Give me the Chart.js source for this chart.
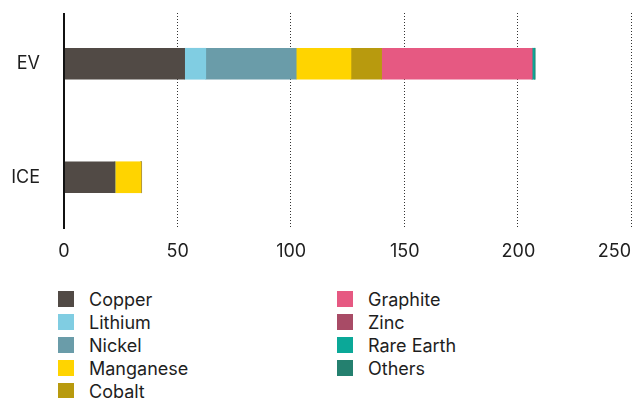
<!DOCTYPE html>
<html>
<head>
<meta charset="utf-8">
<script src="https://cdn.jsdelivr.net/npm/chart.js@4"></script>
<style>
  html, body { margin: 0; padding: 0; background: #fff; }
  body { width: 632px; height: 398px; position: relative; overflow: hidden; font-family: Inter, "Liberation Sans", sans-serif; }
  #wrap { position: absolute; left: 0; top: 0; width: 632px; height: 272px; }
  .item { position: absolute; height: 16px; display: flex; align-items: center; white-space: nowrap; font-size: 18px; color: #1e1e1e; }
  .box { width: 16px; height: 16px; margin-right: 15px; flex: none; }
</style>
</head>
<body>
<div id="wrap"><canvas id="c"></canvas></div>
<div id="legend"></div>
<script>
const categories = ['EV', 'ICE'];
const copper    = [53.1, 22.4];
const lithium   = [9.3, 0];
const nickel    = [39.8, 0];
const manganese = [24.1, 11.5];
const cobalt    = [13.5, 0];
const graphite  = [66.2, 0];
const zinc      = [0, 0];
const rareEarth = [1.0, 0];
const others    = [0.4, 0.3];
const xTicks = [0, 50, 100, 150, 200, 250];

const seriesNames = ['Copper', 'Lithium', 'Nickel', 'Manganese', 'Cobalt', 'Graphite', 'Zinc', 'Rare Earth', 'Others'];
const seriesData = [copper, lithium, nickel, manganese, cobalt, graphite, zinc, rareEarth, others];
const seriesColors = ['#514a45', '#80cde2', '#6a9ca9', '#ffd400', '#b89a0e', '#e65982', '#a84b66', '#0ba898', '#24806f'];

const FONT = 'Inter, "Liberation Sans", sans-serif';

const decor = {
  id: 'decor',
  beforeDatasetsDraw(chart) {
    const { ctx, scales: { x }, chartArea: a } = chart;
    const top = a.top + 6, bottom = a.bottom - 5;
    ctx.save();
    ctx.strokeStyle = '#333';
    ctx.lineWidth = 1;
    ctx.setLineDash([1, 2]);
    xTicks.forEach(v => {
      if (v === 0) return;
      let px = Math.round(x.getPixelForValue(v)) - 0.5;
      px = Math.min(px, chart.width - 0.5);
      ctx.beginPath();
      ctx.moveTo(px, top);
      ctx.lineTo(px, bottom);
      ctx.stroke();
    });
    ctx.restore();
  },
  afterDatasetsDraw(chart) {
    const { ctx, scales: { x }, chartArea: a } = chart;
    const top = a.top + 6, bottom = a.bottom - 5;
    const px = x.getPixelForValue(0);
    ctx.save();
    ctx.strokeStyle = '#111';
    ctx.lineWidth = 2;
    ctx.beginPath();
    ctx.moveTo(px, top);
    ctx.lineTo(px, bottom);
    ctx.stroke();
    ctx.fillStyle = '#1e1e1e';
    ctx.font = '18px ' + FONT;
    ctx.textBaseline = 'middle';
    ctx.textAlign = 'center';
    xTicks.forEach(v => {
      const label = String(v);
      const w = ctx.measureText(label).width;
      let cx = x.getPixelForValue(v);
      cx = Math.min(cx, chart.width - w / 2 - 1);
      ctx.fillText(label, cx, a.bottom + 18);
    });
    ctx.restore();
  }
};

new Chart(document.getElementById('c'), {
  type: 'bar',
  data: {
    labels: categories,
    datasets: seriesNames.map((n, i) => ({
      label: n,
      data: seriesData[i],
      backgroundColor: seriesColors[i],
      borderWidth: 0,
      barThickness: 31
    }))
  },
  options: {
    indexAxis: 'y',
    responsive: true,
    maintainAspectRatio: false,
    animation: false,
    layout: { padding: { top: 7, bottom: 38, right: 0, left: 0 } },
    plugins: { legend: { display: false }, tooltip: { enabled: false } },
    scales: {
      x: {
        stacked: true,
        min: 0, max: 250,
        afterBuildTicks(s) { s.ticks = xTicks.map(v => ({ value: v })); },
        grid: { display: false },
        border: { display: false },
        ticks: { display: false },
        afterFit(s) { s.height = 0; s.paddingLeft = 0; s.paddingRight = 0; }
      },
      y: {
        stacked: true,
        grid: { display: false, drawTicks: false },
        border: { display: false },
        ticks: { color: '#1e1e1e', padding: 24, font: { family: FONT, size: 18 } },
        afterFit(s) { s.width = 64; s.paddingTop = 0; s.paddingBottom = 0; }
      }
    }
  },
  plugins: [decor]
});

const legend = document.getElementById('legend');
seriesNames.forEach((n, i) => {
  const col = i < 5 ? 0 : 1;
  const row = i < 5 ? i : i - 5;
  const el = document.createElement('div');
  el.className = 'item';
  el.style.left = (col === 0 ? 58 : 337) + 'px';
  el.style.top = (291 + row * 23) + 'px';
  el.innerHTML = '<span class="box" style="background:' + seriesColors[i] + '"></span><span>' + n + '</span>';
  legend.appendChild(el);
});
</script>
</body>
</html>
